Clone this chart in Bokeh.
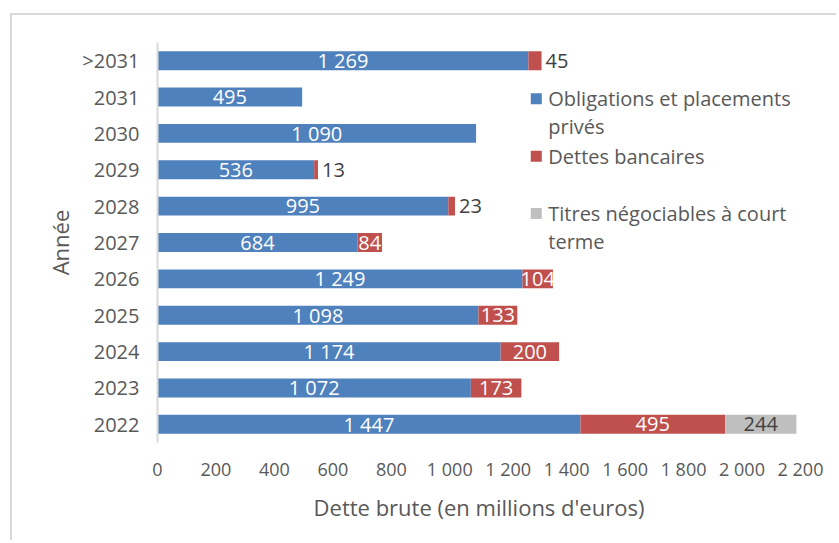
from bokeh.plotting import figure
from bokeh.models import ColumnDataSource, FixedTicker, Label, Range1d, FactorRange
from bokeh.core.properties import value
from bokeh.embed import file_html
from bokeh.resources import INLINE

# ---- data ----
years = ["2022", "2023", "2024", "2025", "2026", "2027", "2028", "2029", "2030", "2031", ">2031"]
obligations = [1447, 1072, 1174, 1098, 1249, 684, 995, 536, 1090, 495, 1269]
dettes_bancaires = [495, 173, 200, 133, 104, 84, 23, 13, 0, 0, 45]
titres = [244, 0, 0, 0, 0, 0, 0, 0, 0, 0, 0]
x_ticks = [0, 200, 400, 600, 800, 1000, 1200, 1400, 1600, 1800, 2000, 2200]
x_tick_labels = ["0", "200", "400", "600", "800", "1 000", "1 200", "1 400", "1 600", "1 800", "2 000", "2 200"]
series_keys = ["obligations", "dettes", "titres"]
series_names = ["Obligations et placements|privés", "Dettes bancaires", "Titres négociables à court|terme"]
colors = ["#4F81BD", "#C0504D", "#BFBFBF"]

FONT = "Open Sans"
GRAY = "#595959"
DARK = "#404040"


def fr(v):
    return f"{v:,}".replace(",", " ")


source = ColumnDataSource(dict(year=years, obligations=obligations, dettes=dettes_bancaires, titres=titres))

p = figure(width=826, height=527, y_range=FactorRange(*years), x_range=Range1d(0, 2200),
           output_backend="svg", toolbar_location=None,
           min_border_left=145, min_border_right=38, min_border_top=27, min_border_bottom=100)
p.margin = (13, 0, 0, 10)
p.styles = {"border-top": "2px solid #D9D9D9", "border-left": "2px solid #D9D9D9"}
p.background_fill_color = "white"
p.border_fill_color = "white"
p.outline_line_color = None

p.hbar_stack(series_keys, y="year", height=0.52, source=source, color=colors, line_color=None)

# ---- value labels ----
in_x, in_y, in_t, in_c = [], [], [], []
out_x, out_y, out_t = [], [], []
series_vals = [obligations, dettes_bancaires, titres]
for i, y in enumerate(years):
    start = 0
    for s, vals in enumerate(series_vals):
        v = vals[i]
        if v > 0:
            if s == 1 and v < 60:
                out_x.append(start + v)
                out_y.append(y)
                out_t.append(fr(v))
            else:
                in_x.append(start + v / 2)
                in_y.append(y)
                in_t.append(fr(v))
                in_c.append(DARK if s == 2 else "white")
        start += v

p.text(x="x", y="y", text="t", text_color="c", source=ColumnDataSource(dict(x=in_x, y=in_y, t=in_t, c=in_c)),
       text_align="center", text_baseline="middle", text_font=value(FONT), text_font_size=value("20px"))
p.text(x="x", y="y", text="t", source=ColumnDataSource(dict(x=out_x, y=out_y, t=out_t)),
       text_color=DARK, x_offset=4, text_align="left", text_baseline="middle",
       text_font=value(FONT), text_font_size=value("20px"))

# ---- axes ----
p.xaxis.ticker = FixedTicker(ticks=x_ticks)
p.xaxis.major_label_overrides = {t: l for t, l in zip(x_ticks, x_tick_labels)}
p.xaxis.axis_line_color = None
p.xaxis.major_tick_line_color = None
p.xaxis.minor_tick_line_color = None
p.xaxis.major_label_standoff = 8
p.xaxis.axis_label = "Dette brute (en millions d'euros)"
p.xaxis.axis_label_standoff = 8
p.xaxis.major_label_text_font_size = "18px"

p.yaxis.axis_line_color = "#D9D9D9"
p.yaxis.axis_line_width = 2
p.yaxis.major_tick_line_color = None
p.yaxis.minor_tick_line_color = None
p.yaxis.major_label_standoff = 12
p.yaxis.axis_label = "Année"
p.yaxis.axis_label_standoff = 4
p.yaxis.major_label_text_font_size = "20px"

for ax in (p.xaxis, p.yaxis):
    ax.major_label_text_font = FONT
    ax.major_label_text_color = GRAY
    ax.axis_label_text_font = FONT
    ax.axis_label_text_font_size = "22px"
    ax.axis_label_text_font_style = "normal"
    ax.axis_label_text_color = GRAY

p.xgrid.grid_line_color = None
p.ygrid.grid_line_color = None

# ---- legend (drawn manually to mimic the wrapped entries) ----
leg_marker_x = 1296
leg_text_x = 1337
leg_rows = [9.45, 7.87, 6.30]
line_gap = 0.76
p.scatter(x=[leg_marker_x] * 3, y=leg_rows, marker="square", size=11, color=colors, line_color=None)
for name, yy in zip(series_names, leg_rows):
    for k, line in enumerate(name.split("|")):
        p.add_layout(Label(x=leg_text_x, y=yy - k * line_gap, text=line, text_baseline="middle",
                           text_font=FONT, text_font_size="20px", text_color=GRAY))

open("out.html", "w").write(file_html(p, INLINE))
